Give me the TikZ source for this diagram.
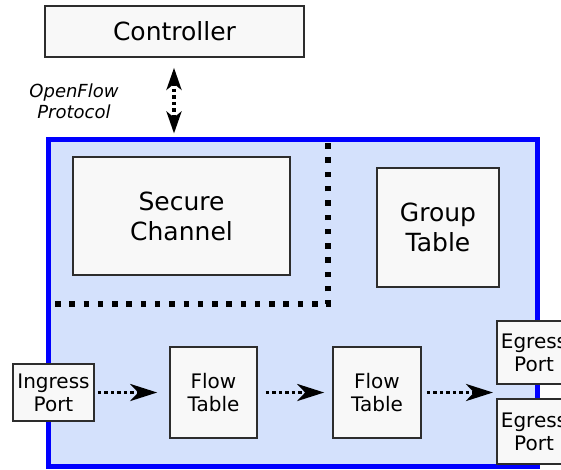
\documentclass[tikz,border=0pt]{standalone}
\usepackage{fontspec}
\setmainfont{DejaVu Sans}
\usetikzlibrary{arrows.meta}
\definecolor{swfill}{RGB}{212,225,252}
\definecolor{swedge}{RGB}{0,0,255}
\definecolor{boxfill}{RGB}{248,248,248}
\definecolor{boxedge}{RGB}{45,45,45}
\tikzset{
  box/.style={draw=boxedge, fill=boxfill, line width=1.6pt, align=center,
    inner sep=0pt, font=\fontsize{25}{30}\selectfont},
  smallbox/.style={box, font=\fontsize{20}{23}\selectfont},
  flowarrow/.style={line width=3.8pt, dash pattern=on 3.5pt off 3pt,
    -{Stealth[length=27pt,width=17pt,inset=8pt]}},
  protoarrow/.style={line width=3.8pt, dash pattern=on 3.5pt off 3pt,
    {Stealth[length=22pt,width=15pt,inset=6pt]}-{Stealth[length=22pt,width=15pt,inset=6pt]}},
  partition/.style={line width=5.5pt, dash pattern=on 5.5pt off 8.78pt}
}
\begin{document}
\begin{tikzpicture}[x=1pt,y=-1pt]
  \useasboundingbox (0,0) rectangle (561,469);
  \clip (0,0) rectangle (561,469);

  % switch body
  \draw[swedge, line width=5pt, fill=swfill] (48,139.5) rectangle (537,466.5);
  \coordinate (swtop) at (174,139.5);

  % controller and link
  \node[box, minimum width=259pt, minimum height=51pt] (ctrl) at (174.5,31.5) {Controller};
  \node[font=\fontsize{18}{21}\selectfont\itshape, align=center] (proto) at (74,101) {OpenFlow\\Protocol};
  \draw[protoarrow, shorten <=10pt, shorten >=6pt] (ctrl.south -| swtop) -- (swtop);

  % control plane part
  \node[box, minimum width=217pt, minimum height=118pt] (secure) at (181.5,216) {Secure\\Channel};
  \node[box, minimum width=122pt, minimum height=119pt] (group) at (438,227.5) {Group\\Table};
  \coordinate (ptop) at (328,143);
  \coordinate (pcorner) at (328,304);
  \coordinate (pleft) at (55,304);
  \draw[partition] (pleft) -- (pcorner) -- (ptop);

  % pipeline
  \node[smallbox, minimum width=81pt, minimum height=57pt] (ingress) at (53.5,392.5) {Ingress\\Port};
  \node[smallbox, minimum width=87pt, minimum height=91pt] (flow1) at (213.5,392.5) {Flow\\Table};
  \node[smallbox, minimum width=88pt, minimum height=91pt] (flow2) at (377,392.5) {Flow\\Table};
  \node[smallbox, minimum width=74pt, minimum height=63pt] (egress1) at (534,352.5) {Egress\\Port};
  \node[smallbox, minimum width=74pt, minimum height=65pt] (egress2) at (534,431.5) {Egress\\Port};
  \coordinate (out) at (497,392.5);

  \draw[flowarrow, shorten <=3pt, shorten >=12pt] (ingress) -- (flow1);
  \draw[flowarrow, shorten <=8pt, shorten >=8pt] (flow1) -- (flow2);
  \draw[flowarrow, shorten <=5pt, shorten >=4pt] (flow2) -- (out);
\end{tikzpicture}
\end{document}
